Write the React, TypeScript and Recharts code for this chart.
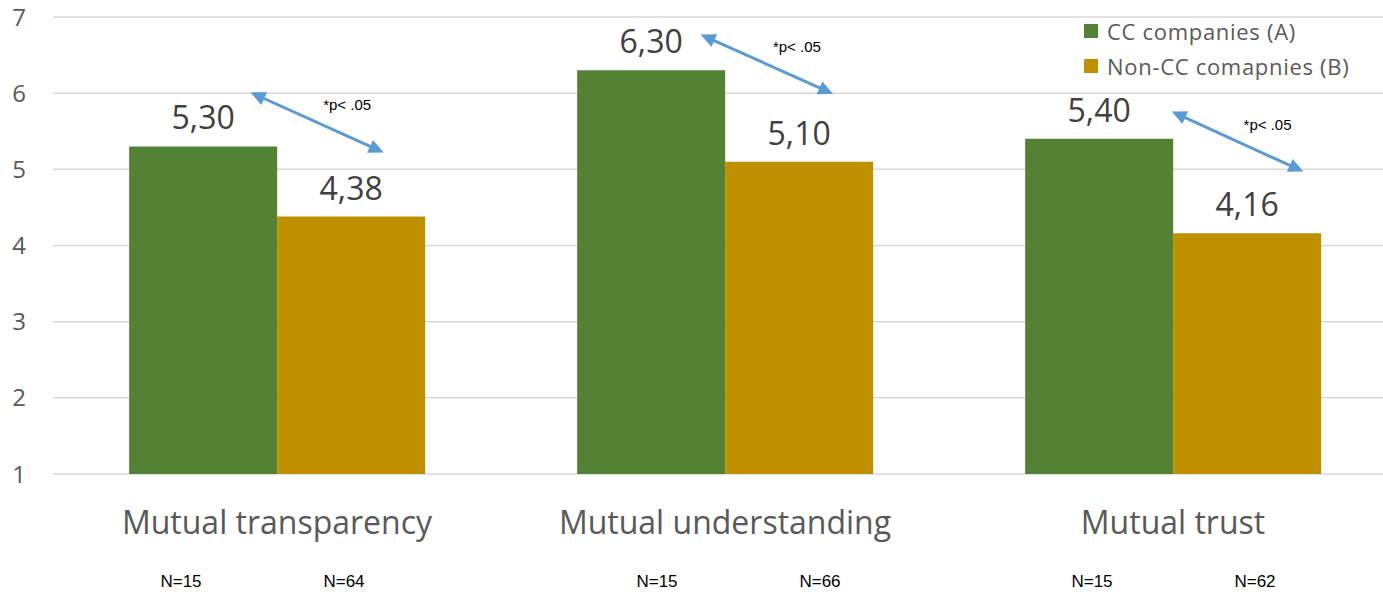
import React from 'react';
import {
  BarChart,
  Bar,
  XAxis,
  YAxis,
  CartesianGrid,
  LabelList,
} from 'recharts';

const categories = ['Mutual transparency', 'Mutual understanding', 'Mutual trust'];
const ccScores = [5.3, 6.3, 5.4];
const nonCcScores = [4.38, 5.1, 4.16];
const ccCounts = [15, 15, 15];
const nonCcCounts = [64, 66, 62];
const seriesNames = ['CC companies (A)', 'Non-CC comapnies (B)'];
const yDomain = [1, 7];
const yTicks = [1, 2, 3, 4, 5, 6, 7];
const sigText = '*p< .05';
// significance arrows per group: [offset in CC-bar widths from its left edge, score]
const arrowStarts = [[0.82, 6.01], [0.834, 6.77], [0.99, 5.76]];
const arrowEnds = [[1.72, 5.22], [1.73, 5.99], [1.88, 4.97]];

const GREEN = '#548235';
const GOLD = '#BF9000';
const ARROW = '#5B9BD5';
const FONT = '"Open Sans", sans-serif';
const SMALL_FONT = '"Liberation Sans", Arial, sans-serif';

// horizontal shift of the two N= labels under each group
const countOffsets = [[-96, 67], [-68, 95], [-81, 82]];

const data = categories.map((name, i) => ({
  name,
  cc: ccScores[i],
  nonCc: nonCcScores[i],
}));

const fmt = (v: number) => v.toFixed(2).replace('.', ',');

const CategoryTick = ({ x, y, payload, index }: any) => {
  const i = payload?.index ?? index ?? 0;
  const [o1, o2] = countOffsets[i];
  return (
    <g>
      <text x={x} y={y + 60} textAnchor="middle" fill="#595959" fontSize={32} fontFamily={FONT}>
        {payload.value}
      </text>
      <text x={x + o1} y={y + 113} textAnchor="middle" fill="#000" fontSize={17} fontFamily={SMALL_FONT}>
        N={ccCounts[i]}
      </text>
      <text x={x + o2} y={y + 113} textAnchor="middle" fill="#000" fontSize={17} fontFamily={SMALL_FONT}>
        N={nonCcCounts[i]}
      </text>
    </g>
  );
};

// double headed arrow next to each CC bar, placed with the bar's own scale
const SigArrow = (props: any) => {
  const { x, y, width, height, value, index } = props;
  if (![x, y, width, height, value].every((v) => typeof v === 'number')) return null;
  const base = y + height;
  const perUnit = height / (value - yDomain[0]);
  const toY = (s: number) => base - (s - yDomain[0]) * perUnit;
  const s = arrowStarts[index];
  const e = arrowEnds[index];
  const x1 = x + s[0] * width;
  const y1 = toY(s[1]);
  const x2 = x + e[0] * width;
  const y2 = toY(e[1]);
  const dx = x2 - x1;
  const dy = y2 - y1;
  const len = Math.sqrt(dx * dx + dy * dy);
  const ux = dx / len;
  const uy = dy / len;
  const head = 15;
  const half = 7;
  const tip = (px: number, py: number, dir: number) => {
    const bx = px - dir * ux * head;
    const by = py - dir * uy * head;
    return `${px},${py} ${bx - uy * half},${by + ux * half} ${bx + uy * half},${by - ux * half}`;
  };
  const mx = (x1 + x2) / 2;
  const my = (y1 + y2) / 2;
  return (
    <g>
      <line
        x1={x1 + ux * (head - 2)}
        y1={y1 + uy * (head - 2)}
        x2={x2 - ux * (head - 2)}
        y2={y2 - uy * (head - 2)}
        stroke={ARROW}
        strokeWidth={3}
      />
      <polygon points={tip(x1, y1, -1)} fill={ARROW} />
      <polygon points={tip(x2, y2, 1)} fill={ARROW} />
      <text x={mx + 30} y={my - 12} textAnchor="middle" fontSize={15} fill="#000" fontFamily={SMALL_FONT}>
        {sigText}
      </text>
    </g>
  );
};

export default function App() {
  return (
    <div
      style={{
        position: 'absolute',
        left: 0,
        top: 0,
        width: 1383,
        height: 594,
        overflow: 'hidden',
        background: '#fff',
      }}
    >
      <BarChart
        width={1397}
        height={594}
        data={data}
        margin={{ top: 17, right: 0, bottom: 0, left: 0 }}
        barCategoryGap="17%"
        barGap={0}
      >
        <CartesianGrid horizontal vertical={false} stroke="#D9D9D9" strokeWidth={1.5} />
        <XAxis
          dataKey="name"
          axisLine={false}
          tickLine={false}
          tickSize={0}
          tickMargin={0}
          height={120}
          interval={0}
          tick={<CategoryTick />}
        />
        <YAxis
          domain={yDomain}
          ticks={yTicks}
          width={53}
          axisLine={false}
          tickLine={false}
          tickSize={0}
          tickMargin={27}
          interval={0}
          tick={{ fill: '#595959', fontSize: 24, fontFamily: FONT }}
        />
        <Bar dataKey="cc" name={seriesNames[0]} fill={GREEN} isAnimationActive={false}>
          <LabelList dataKey="cc" position="top" offset={17} formatter={fmt} fill="#404040" fontSize={32} fontFamily={FONT} />
          <LabelList dataKey="cc" content={<SigArrow />} />
        </Bar>
        <Bar dataKey="nonCc" name={seriesNames[1]} fill={GOLD} isAnimationActive={false}>
          <LabelList dataKey="nonCc" position="top" offset={17} formatter={fmt} fill="#404040" fontSize={32} fontFamily={FONT} />
        </Bar>
      </BarChart>
      <div
        style={{
          position: 'absolute',
          left: 1084,
          top: 13,
          fontFamily: FONT,
          fontSize: 22,
          color: '#595959',
          letterSpacing: 0.7,
        }}
      >
        {seriesNames.map((n, i) => (
          <div key={n} style={{ display: 'flex', alignItems: 'center', height: 35 }}>
            <span
              style={{
                display: 'inline-block',
                width: 14,
                height: 14,
                background: i === 0 ? GREEN : GOLD,
                marginRight: 9,
              }}
            />
            <span>{n}</span>
          </div>
        ))}
      </div>
    </div>
  );
}
